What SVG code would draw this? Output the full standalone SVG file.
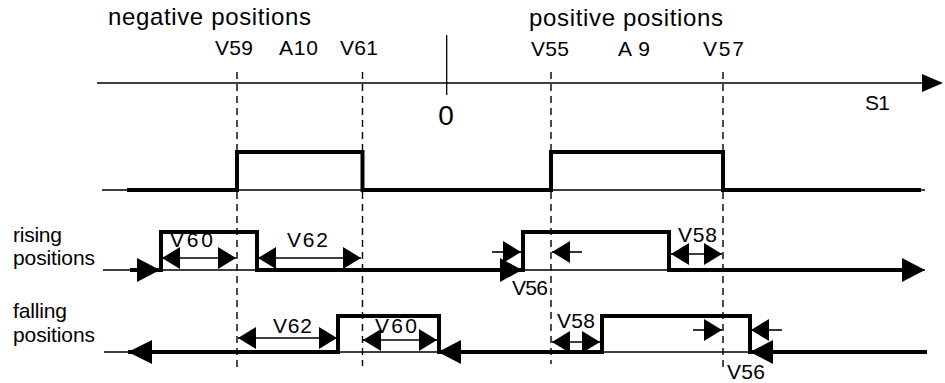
<svg xmlns="http://www.w3.org/2000/svg" width="945" height="383" viewBox="0 0 945 383">
<style>
text{font-family:"Liberation Sans",Arial,sans-serif;fill:#000}
.lbl{font-size:21px}
.hdr{font-size:24px}
.thin{fill:none;stroke:#000;stroke-width:1.3}
.thick{fill:none;stroke:#000;stroke-width:4;stroke-linejoin:miter}
.dash{fill:none;stroke:#000;stroke-width:1.4;stroke-dasharray:7 5}
.dim{fill:none;stroke:#000;stroke-width:1.6}
.head{fill:#000}
</style>
<defs>
<marker id="ah" markerUnits="userSpaceOnUse" markerWidth="18" markerHeight="22" refX="18" refY="11" orient="auto-start-reverse" viewBox="0 0 18 22">
<path d="M0,0 L18,11 L0,22 z" fill="#000"/>
</marker>
</defs>
<rect width="945" height="383" fill="#fff"/>

<g id="axis">
<line class="thin" x1="97" y1="83" x2="924" y2="83"/>
<polygon class="head" points="922,74 943,83 922,92"/>
<line class="thin" x1="446.7" y1="35" x2="446.7" y2="95"/>
<text x="446" y="125" font-size="28" text-anchor="middle">0</text>
<text x="865" y="110" class="lbl" textLength="25" lengthAdjust="spacing">S1</text>
</g>

<g id="headers">
<text x="108" y="25" class="hdr" textLength="203" lengthAdjust="spacing">negative positions</text>
<text x="529" y="26" class="hdr" textLength="194" lengthAdjust="spacing">positive positions</text>
<text x="215" y="55" class="lbl" textLength="38" lengthAdjust="spacing">V59</text>
<text x="279" y="55" class="lbl" textLength="39" lengthAdjust="spacing">A10</text>
<text x="340" y="55" class="lbl" textLength="38" lengthAdjust="spacing">V61</text>
<text x="531" y="56" class="lbl" textLength="38" lengthAdjust="spacing">V55</text>
<text x="618" y="56" class="lbl" textLength="32" lengthAdjust="spacing">A9</text>
<text x="703" y="56" class="lbl" textLength="41" lengthAdjust="spacing">V57</text>
</g>

<g id="guides">
<line class="dash" x1="237" y1="72" x2="237" y2="367"/>
<line class="dash" x1="362.5" y1="72" x2="362.5" y2="366"/>
<line class="dash" x1="551" y1="72" x2="551" y2="364"/>
<line class="dash" x1="723" y1="72" x2="723" y2="367"/>
</g>

<g id="signal-window">
<line class="thin" x1="102" y1="190" x2="925" y2="190"/>
<path class="thick" d="M127,190 H237 V152 H362.5 V190 H551 V152 H723 V190 H921"/>
</g>

<g id="row-labels">
<text x="13" y="242" class="lbl" textLength="49" lengthAdjust="spacing">rising</text>
<text x="13" y="265" class="lbl" textLength="82" lengthAdjust="spacing">positions</text>
<text x="13" y="318" class="lbl" textLength="54" lengthAdjust="spacing">falling</text>
<text x="13" y="342" class="lbl" textLength="82" lengthAdjust="spacing">positions</text>
</g>

<g id="signal-rising">
<line class="thin" x1="103" y1="270" x2="925" y2="270"/>
<path class="thick" d="M130,270 H161 V232 H257 V270 H523 V232 H669 V270 H905"/>
<polygon class="head" points="137,258 160,270 137,282"/>
<polygon class="head" points="500,258 522,270 500,282"/>
<polygon class="head" points="902,258 925,270 902,282"/>
</g>

<g id="signal-falling">
<line class="thin" x1="104" y1="352" x2="927" y2="352"/>
<path class="thick" d="M128,352 H338 V316 H439 V352 H602 V316 H750 V352 H927"/>
<polygon class="head" points="152,340 128,352 152,364"/>
<polygon class="head" points="461,340 438,352 461,364"/>
<polygon class="head" points="773,340 750,352 773,364"/>
</g>

<g id="connectors">
<line class="dim" x1="162" y1="258" x2="236" y2="258" marker-start="url(#ah)" marker-end="url(#ah)"/>
<line class="dim" x1="258" y1="258" x2="361" y2="258" marker-start="url(#ah)" marker-end="url(#ah)"/>
<line class="dim" x1="671" y1="254" x2="722" y2="254" marker-start="url(#ah)" marker-end="url(#ah)"/>
<line class="dim" x1="492" y1="252" x2="521" y2="252" marker-end="url(#ah)"/>
<line class="dim" x1="582" y1="252" x2="552" y2="252" marker-end="url(#ah)"/>
<line class="dim" x1="238" y1="338" x2="337" y2="338" marker-start="url(#ah)" marker-end="url(#ah)"/>
<line class="dim" x1="363" y1="340" x2="437" y2="340" marker-start="url(#ah)" marker-end="url(#ah)"/>
<line class="dim" x1="552" y1="342" x2="600" y2="342" marker-start="url(#ah)" marker-end="url(#ah)"/>
<line class="dim" x1="693" y1="330" x2="722" y2="330" marker-end="url(#ah)"/>
<line class="dim" x1="782" y1="330" x2="751" y2="330" marker-end="url(#ah)"/>
</g>

<g id="dim-labels">
<text x="170" y="247" class="lbl" textLength="43" lengthAdjust="spacing">V60</text>
<text x="287" y="247" class="lbl" textLength="41" lengthAdjust="spacing">V62</text>
<text x="678" y="242" class="lbl" textLength="39" lengthAdjust="spacing">V58</text>
<text x="512" y="295" class="lbl" textLength="36" lengthAdjust="spacing">V56</text>
<text x="273" y="333" class="lbl" textLength="39" lengthAdjust="spacing">V62</text>
<text x="375" y="333" class="lbl" textLength="42" lengthAdjust="spacing">V60</text>
<text x="557" y="328" class="lbl" textLength="38" lengthAdjust="spacing">V58</text>
<text x="727" y="379" class="lbl" textLength="38" lengthAdjust="spacing">V56</text>
</g>
</svg>
